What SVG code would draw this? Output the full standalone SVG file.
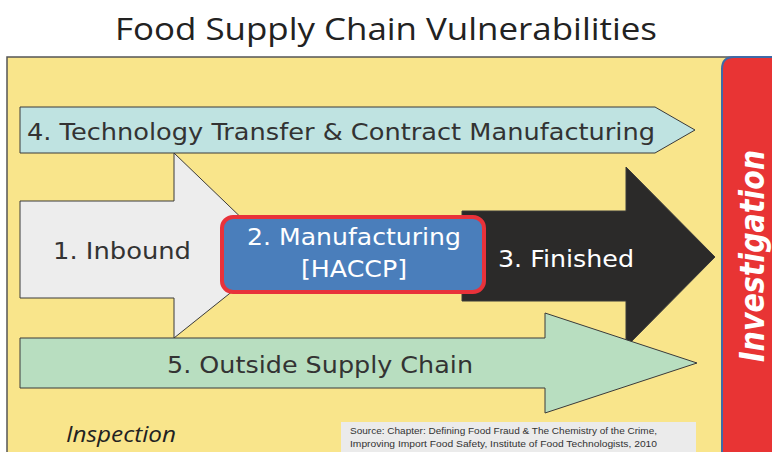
<svg xmlns="http://www.w3.org/2000/svg" width="772" height="452" viewBox="0 0 772 452">
<style>
.lbl{font-family:"DejaVu Sans",Verdana,sans-serif;font-size:23px;fill:#333333}
.wl{font-family:"DejaVu Sans",Verdana,sans-serif;font-size:23px;fill:#ffffff}
.arr{stroke:#3a3a3a;stroke-width:1}
</style>
<rect x="0" y="0" width="772" height="452" fill="#ffffff"/>
<text x="386" y="40" text-anchor="middle" font-family="'Open Sans',sans-serif" font-size="31" fill="#222222" textLength="542" lengthAdjust="spacingAndGlyphs">Food Supply Chain Vulnerabilities</text>
<rect id="background" x="7" y="57" width="730" height="420" fill="#F9E58B" stroke="#555555" stroke-width="1.5"/>
<g id="inbound">
<polygon class="arr" fill="#EDEDED" points="20,201 174,201 174,153 279,254 174,338 174,298 20,298"/>
<text class="lbl" x="53" y="259" textLength="138" lengthAdjust="spacingAndGlyphs">1. Inbound</text>
</g>
<g id="finished">
<polygon class="arr" fill="#2B2A29" points="462,211 626,211 626,167 715,257 626,347 626,301 462,301"/>
<text class="wl" x="498" y="267" textLength="136" lengthAdjust="spacingAndGlyphs">3. Finished</text>
</g>
<g id="manufacturing">
<rect x="222" y="217" width="262" height="75" rx="11" fill="#4A7EBB" stroke="#E8323A" stroke-width="4"/>
<text class="wl" x="247" y="245" textLength="214" lengthAdjust="spacingAndGlyphs">2. Manufacturing</text>
<text class="wl" x="301" y="277" textLength="106" lengthAdjust="spacingAndGlyphs">[HACCP]</text>
</g>
<g id="technology">
<polygon class="arr" fill="#BFE3E1" points="20,107 655,107 695,130 655,153 20,153"/>
<text class="lbl" x="27" y="140" textLength="628" lengthAdjust="spacingAndGlyphs">4. Technology Transfer &amp; Contract Manufacturing</text>
</g>
<g id="outside">
<polygon class="arr" fill="#B8DEC0" points="20,338 545,338 545,313 697,363 545,413 545,388 20,388"/>
<text class="lbl" x="167" y="373" textLength="306" lengthAdjust="spacingAndGlyphs">5. Outside Supply Chain</text>
</g>
<g id="investigation">
<path d="M722,460 L722,69 Q722,57 734,57 L780,57 L780,460 Z" fill="#E83434" stroke="#3E6AA8" stroke-width="2"/>
<text x="0" y="0" transform="translate(764,256) rotate(-90)" text-anchor="middle" font-family="'DejaVu Sans',Verdana,sans-serif" font-size="34" font-weight="bold" font-style="italic" fill="#ffffff" textLength="212" lengthAdjust="spacingAndGlyphs">Investigation</text>
</g>
<g id="inspection">
<text x="66" y="442" font-family="'Open Sans',sans-serif" font-size="22" font-style="italic" fill="#222222" textLength="110" lengthAdjust="spacingAndGlyphs">Inspection</text>
</g>
<g id="source">
<rect x="341" y="422" width="355" height="40" fill="#EBEBEB"/>
<text x="350" y="434" font-family="'Liberation Sans',Arial,sans-serif" font-size="9.5" fill="#333333" textLength="307" lengthAdjust="spacingAndGlyphs">Source: Chapter: Defining Food Fraud &amp; The Chemistry of the Crime,</text>
<text x="350" y="447" font-family="'Liberation Sans',Arial,sans-serif" font-size="9.5" fill="#333333" textLength="307" lengthAdjust="spacingAndGlyphs">Improving Import Food Safety, Institute of Food Technologists, 2010</text>
</g>
</svg>
